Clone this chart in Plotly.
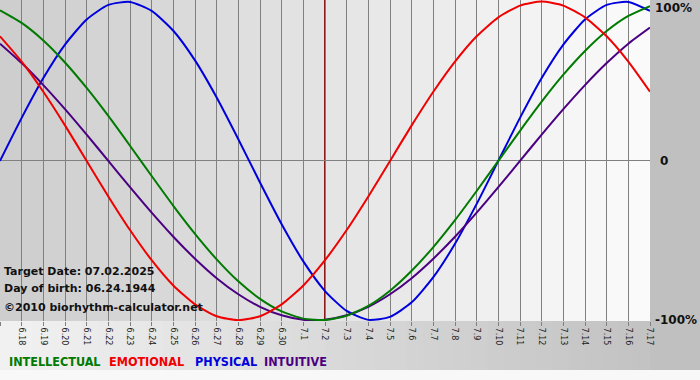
import plotly.graph_objects as go

days = ["6.17", "6.18", "6.19", "6.20", "6.21", "6.22", "6.23", "6.24", "6.25", "6.26",
        "6.27", "6.28", "6.29", "6.30", "7.1", "7.2", "7.3", "7.4", "7.5", "7.6",
        "7.7", "7.8", "7.9", "7.10", "7.11", "7.12", "7.13", "7.14", "7.15", "7.16", "7.17"]

physical = [0, 27, 52, 73, 88.8, 97.9, 99.8, 94.2, 81.7, 63.1, 39.8, 13.6, -13.6, -39.8, -63.1,
            -81.7, -94.2, -99.8, -97.9, -88.8, -73, -52, -27, 0, 27, 52, 73, 88.8, 97.9, 99.8, 94.2]
emotional = [78.2, 62.3, 43.4, 22.3, 0, -22.3, -43.4, -62.3, -78.2, -90.1, -97.5, -100, -97.5,
             -90.1, -78.2, -62.3, -43.4, -22.3, 0, 22.3, 43.4, 62.3, 78.2, 90.1, 97.5, 100, 97.5,
             90.1, 78.2, 62.3, 43.4]
intellectual = [94.5, 86.6, 75.6, 61.8, 45.8, 28.2, 9.5, -9.5, -28.2, -45.8, -61.8, -75.6, -86.6,
                -94.5, -99, -99.9, -97.2, -91, -81.5, -69, -54.1, -37.2, -18.9, 0, 18.9, 37.2,
                54.1, 69, 81.5, 91, 97.2]
intuitive = [73.6, 61.4, 47.6, 32.5, 16.5, 0, -16.5, -32.5, -47.6, -61.4, -73.6, -83.7, -91.6,
             -96.9, -99.7, -99.7, -96.9, -91.6, -83.7, -73.6, -61.4, -47.6, -32.5, -16.5, 0,
             16.5, 32.5, 47.6, 61.4, 73.6, 83.7]

target_day = "7.2"
target_text = "Target Date: 07.02.2025"
birth_text = "Day of birth: 06.24.1944"
credit_text = "\u00a92010 biorhythm-calculator.net"
y_labels = ["100%", "0", "-100%"]
y_label_vals = [96, 0, -100]

series = [
    ("INTELLECTUAL", intellectual, "#007a00"),
    ("EMOTIONAL", emotional, "#f00000"),
    ("PHYSICAL", physical, "#0000dd"),
    ("INTUITIVE", intuitive, "#4b0082"),
]
draw_order = ["PHYSICAL", "INTUITIVE", "INTELLECTUAL", "EMOTIONAL"]

fig = go.Figure()
xs = list(range(len(days)))
lookup = {s[0]: s for s in series}
for name in draw_order:
    n, vals, col = lookup[name]
    fig.add_trace(go.Scatter(x=xs, y=vals, mode="lines", name=n,
                             line=dict(color=col, width=2, shape="spline", smoothing=0.6),
                             hoverinfo="skip", showlegend=False))

shapes = []
n = len(days) - 1
for i in range(n):
    t = (i + 0.5) / n
    c = int(round(0xcd + (0xfb - 0xcd) * t))
    shapes.append(dict(type="rect", xref="x", yref="paper", x0=i, x1=i + 1, y0=0, y1=1,
                       fillcolor=f"rgb({c},{c},{c})", line=dict(width=0), layer="below"))
steps = 40
ybot = -49 / 321
for k in range(steps):
    t = (k + 0.5) / steps
    c = int(round(0xf2 + (0xc2 - 0xf2) * t))
    shapes.append(dict(type="rect", xref="paper", yref="paper", x0=k / steps, x1=(k + 1) / steps + 0.002,
                       y0=ybot, y1=0, fillcolor=f"rgb({c},{c},{c})", line=dict(width=0), layer="below"))
shapes.append(dict(type="rect", xref="paper", yref="paper", x0=1, x1=1.08, y0=ybot, y1=1.01,
                   fillcolor="#c0c0c0", line=dict(width=0), layer="below"))
ti = days.index(target_day)
shapes.append(dict(type="line", xref="x", yref="paper", x0=ti, x1=ti, y0=0, y1=1,
                   line=dict(color="#8a1a1a", width=2), layer="below"))

annotations = []
font_bold = "Verdana, 'DejaVu Sans', sans-serif"
for i, txt in enumerate([target_text, birth_text]):
    annotations.append(dict(text=f"<b>{txt}</b>", xref="paper", yref="paper", x=0.003,
                            y=(321 - (271 + 17 * i)) / 321, xanchor="left", yanchor="middle",
                            showarrow=False, font=dict(family=font_bold, size=11, color="#111")))
annotations.append(dict(text=f"<b>{credit_text}</b>", xref="paper", yref="paper", x=0.003,
                        y=(321 - 307) / 321, xanchor="left", yanchor="middle",
                        showarrow=False, font=dict(family=font_bold, size=11, color="#111")))
for lab, v in zip(y_labels, y_label_vals):
    annotations.append(dict(text=f"<b>{lab}</b>", xref="paper", yref="y", x=1.0, y=v,
                            xanchor="left", yanchor="middle", xshift=3 if lab != "0" else 8,
                            showarrow=False, font=dict(family=font_bold, size=12, color="#111")))
leg_x = [7, 107, 193, 262]
for (name, _, col), px in zip(series, leg_x):
    annotations.append(dict(text=f"<b>{name}</b>", xref="paper", yref="paper", x=px / 650,
                            y=(321 - 362) / 321, xanchor="left", yanchor="middle",
                            showarrow=False,
                            font=dict(family="Tahoma, 'DejaVu Sans Condensed', 'DejaVu Sans', sans-serif",
                                      size=12.5, color=col)))

fig.update_layout(
    width=700, height=380,
    margin=dict(l=0, r=50, t=0, b=59, autoexpand=False),
    paper_bgcolor="#f8f8f8", plot_bgcolor="rgba(0,0,0,0)",
    shapes=shapes, annotations=annotations,
    xaxis=dict(range=[0, n], tickmode="array", tickvals=xs, ticktext=days, tickangle=90,
               showgrid=True, gridcolor="#808080", gridwidth=1, zeroline=False,
               ticks="outside", ticklen=4, tickcolor="#808080", automargin=False,
               tickfont=dict(family="Verdana, 'DejaVu Sans', sans-serif", size=8, color="#222"),
               showline=False, fixedrange=True),
    yaxis=dict(range=[-100.5, 101], tickvals=[-100, 0], showticklabels=False,
               showgrid=True, gridcolor="#808080", gridwidth=1, zeroline=False,
               showline=False, fixedrange=True, automargin=False),
)

fig.write_html("out.html", config={"displayModeBar": False},
               post_script="document.body.style.margin='0';document.body.style.overflow='hidden';")
